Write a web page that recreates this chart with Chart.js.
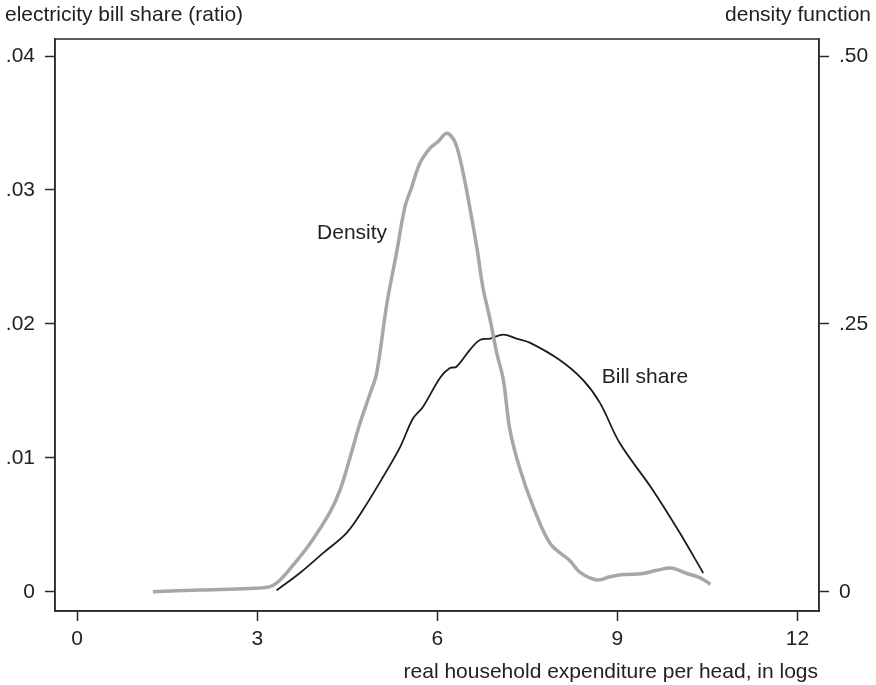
<!DOCTYPE html>
<html>
<head>
<meta charset="utf-8">
<script src="https://cdn.jsdelivr.net/npm/chart.js@4.4.1/dist/chart.umd.min.js"></script>
<style>
  html, body { margin: 0; padding: 0; background: #fff; }
  #wrap { width: 876px; height: 685px; position: relative; }
</style>
</head>
<body>
<div id="wrap"><canvas id="c" width="876" height="685"></canvas></div>
<script>
// ---- data ----
const densityX = [1.26, 2.05, 2.88, 3.21, 3.38, 3.60, 3.88, 4.21, 4.38, 4.55, 4.71, 4.88, 4.99, 5.16, 5.32, 5.46, 5.57, 5.71, 5.88, 6.01, 6.16, 6.30, 6.43, 6.55, 6.66, 6.76, 6.88, 6.99, 7.10, 7.21, 7.38, 7.60, 7.88, 8.21, 8.38, 8.66, 8.88, 9.10, 9.43, 9.66, 9.91, 10.16, 10.38, 10.55];
const densityY = [0.000, 0.0016, 0.003, 0.0047, 0.011, 0.025, 0.045, 0.074, 0.095, 0.126, 0.157, 0.185, 0.204, 0.269, 0.316, 0.359, 0.377, 0.400, 0.414, 0.420, 0.428, 0.419, 0.391, 0.356, 0.321, 0.284, 0.254, 0.223, 0.198, 0.151, 0.114, 0.079, 0.045, 0.029, 0.018, 0.011, 0.014, 0.016, 0.017, 0.020, 0.022, 0.017, 0.013, 0.007];

const billX = [3.32, 3.71, 4.10, 4.49, 4.76, 5.10, 5.38, 5.59, 5.76, 6.05, 6.21, 6.32, 6.55, 6.71, 6.88, 7.10, 7.32, 7.54, 8.04, 8.43, 8.71, 9.04, 9.59, 10.04, 10.43];
const billY = [0.0001, 0.0014, 0.0029, 0.0044, 0.0061, 0.0086, 0.0108, 0.0129, 0.0138, 0.0160, 0.0167, 0.0168, 0.0181, 0.0188, 0.0189, 0.0192, 0.0189, 0.0186, 0.0173, 0.0158, 0.0141, 0.0111, 0.0076, 0.0044, 0.0014];

const xTicks = [0, 3, 6, 9, 12];
const yTicks = [0, 0.01, 0.02, 0.03, 0.04];
const y2Ticks = [0, 0.25, 0.50];

const leftTitle = 'electricity bill share (ratio)';
const rightTitle = 'density function';
const xTitle = 'real household expenditure per head, in logs';
const curveLabels = [
  { text: 'Density', x: 4.58, y: 0.02678 },
  { text: 'Bill share', x: 9.46, y: 0.01603 }
];

const FONT = '"Liberation Sans", Arial, Helvetica, sans-serif';
const FS = 21;
const AXIS = '#2a2a2a';

const densityPts = densityX.map((x, i) => ({ x, y: densityY[i] }));
const billPts = billX.map((x, i) => ({ x, y: billY[i] }));

const fmtTick = v => v === 0 ? '0' : v.toFixed(2).replace(/^0/, '');

const textPlugin = {
  id: 'texts',
  afterDraw(chart) {
    const ctx = chart.ctx;
    const a = chart.chartArea;
    ctx.save();
    ctx.strokeStyle = AXIS;
    ctx.lineWidth = 1.5;
    ctx.strokeRect(a.left, a.top, a.right - a.left, a.bottom - a.top);
    ctx.fillStyle = '#222';
    ctx.font = FS + 'px ' + FONT;
    ctx.textBaseline = 'middle';
    ctx.textAlign = 'left';
    ctx.fillText(leftTitle, 5, 15);
    ctx.textAlign = 'right';
    ctx.fillText(rightTitle, 871, 15);
    ctx.fillText(xTitle, 818, 672);
    ctx.textAlign = 'center';
    const xs = chart.scales.x, ys = chart.scales.y;
    curveLabels.forEach(l => {
      ctx.fillText(l.text, xs.getPixelForValue(l.x), ys.getPixelForValue(l.y));
    });
    ctx.restore();
  }
};

new Chart(document.getElementById('c'), {
  type: 'line',
  data: {
    datasets: [
      {
        label: 'Density',
        data: densityPts,
        yAxisID: 'y2',
        borderColor: '#a7a7a9',
        borderWidth: 3.5,
        pointRadius: 0,
        tension: 0.35,
        fill: false
      },
      {
        label: 'Bill share',
        data: billPts,
        yAxisID: 'y',
        borderColor: '#1c1c1c',
        borderWidth: 1.8,
        pointRadius: 0,
        tension: 0.35,
        fill: false
      }
    ]
  },
  options: {
    responsive: false,
    animation: false,
    devicePixelRatio: 1,
    layout: { padding: { top: 39, left: 0, right: 0, bottom: 0 } },
    plugins: { legend: { display: false }, tooltip: { enabled: false } },
    scales: {
      x: {
        type: 'linear',
        min: -0.37,
        max: 12.36,
        afterBuildTicks: s => { s.ticks = xTicks.map(v => ({ value: v })); },
        afterFit: s => { s.height = 74; },
        grid: { drawOnChartArea: false, color: AXIS, tickLength: 10, tickWidth: 1.5 },
        border: { display: true, color: AXIS, width: 1.5 },
        ticks: { color: '#222', font: { family: FONT, size: FS }, padding: 6, maxRotation: 0, callback: v => String(v) }
      },
      y: {
        type: 'linear',
        position: 'left',
        min: -0.00144,
        max: 0.04127,
        afterBuildTicks: s => { s.ticks = yTicks.map(v => ({ value: v })); },
        afterFit: s => { s.width = 55; },
        grid: { drawOnChartArea: false, color: AXIS, tickLength: 10, tickWidth: 1.5 },
        border: { display: true, color: AXIS, width: 1.5 },
        ticks: { color: '#222', font: { family: FONT, size: FS }, padding: 10, callback: v => fmtTick(v) }
      },
      y2: {
        type: 'linear',
        position: 'right',
        min: -0.018,
        max: 0.5159,
        afterBuildTicks: s => { s.ticks = y2Ticks.map(v => ({ value: v })); },
        afterFit: s => { s.width = 57; },
        grid: { drawOnChartArea: false, color: AXIS, tickLength: 10, tickWidth: 1.5 },
        border: { display: true, color: AXIS, width: 1.5 },
        ticks: { color: '#222', font: { family: FONT, size: FS }, padding: 10, callback: v => fmtTick(v) }
      }
    }
  },
  plugins: [textPlugin]
});
</script>
</body>
</html>
